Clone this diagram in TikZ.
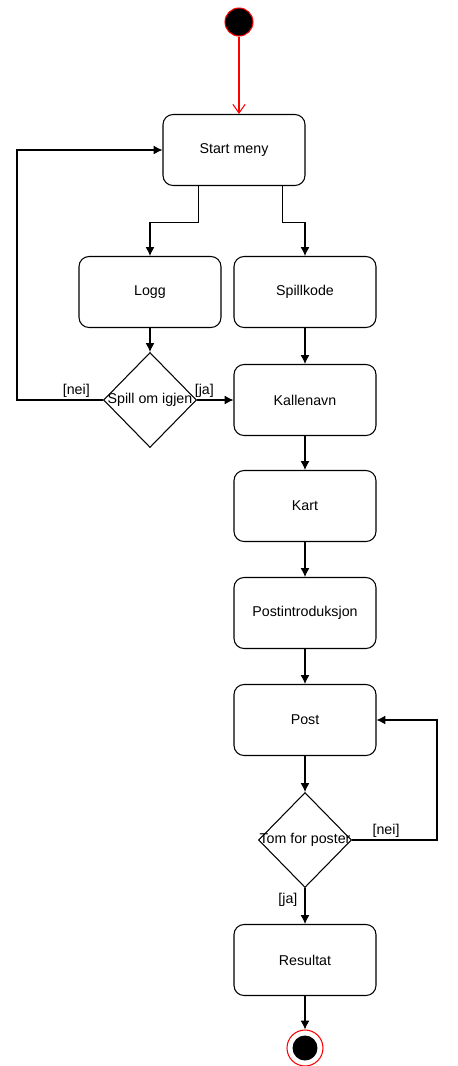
\documentclass[tikz,border=0pt]{standalone}
\usepackage{fontspec}
\setmainfont{Liberation Sans}
\usetikzlibrary{arrows.meta,calc,shapes.geometric}
\begin{document}
\begin{tikzpicture}[
        x=0.02cm, y=-0.02cm,
        font=\fontsize{8.1}{9.7}\selectfont,
        act/.style={draw, rounded corners=0.2cm, minimum width=2.84cm, minimum height=1.42cm, line width=0.6pt},
        decision/.style={draw, diamond, minimum width=1.86cm, minimum height=1.9cm, inner sep=0pt, line width=0.6pt},
        initial/.style={circle, fill=black, draw=red, minimum size=0.56cm, inner sep=0pt, line width=0.6pt},
        final/.style={circle, draw=red, minimum size=0.72cm, inner sep=0pt, line width=0.6pt,
            path picture={\fill[black] (path picture bounding box.center) circle (0.25cm);}},
        flow/.style={draw, -{Latex[length=5pt,width=5pt]}, line width=0.6pt},
        startflow/.style={draw=red, -{Straight Barb[length=5pt,width=7pt]}, line width=0.6pt},
    ]
    \useasboundingbox (0,0) rectangle (457,1066);
    \node[initial](start) at (239,22){};
    \node[act](meny) at (234,150){Start meny};
    \node[act](logg) at (150,292){Logg};
    \node[act](spillkode) at (305,292){Spillkode};
    \node[decision, label=center:{Spill om igjen}](igjen) at (150,400){};
    \node[act](kallenavn) at (305,400){Kallenavn};
    \node[act](kart) at (305,506){Kart};
    \node[act](intro) at (305,613){Postintroduksjon};
    \node[act](post) at (305,720){Post};
    \node[decision, label=center:{Tom for poster}](tom) at (305,840){};
    \node[act](resultat) at (305,960){Resultat};
    \node[final](slutt) at (305,1048){};

    \draw[startflow] (start) -- (start |- meny.north);
    \draw[flow] ($(meny.south west)!0.25!(meny.south east)$) -- ++(0,36) -| (logg.north);
    \draw[flow] ($(meny.south west)!0.84!(meny.south east)$) -- ++(0,36) -| (spillkode.north);
    \draw[flow] (logg) -- (igjen);
    \draw[flow] (spillkode) -- (kallenavn);
    \draw[flow] (igjen.east) -- node[above, pos=0.2, inner sep=1pt]{[ja]} (kallenavn.west);
    \draw[flow] (igjen.west) -- node[above, pos=0.31, inner sep=1pt]{[nei]} ++(-86,0) |- (meny.west);
    \draw[flow] (kallenavn) -- (kart);
    \draw[flow] (kart) -- (intro);
    \draw[flow] (intro) -- (post);
    \draw[flow] (post) -- (tom);
    \draw[flow] (tom.east) -- node[above, pos=0.4, inner sep=1pt]{[nei]} ++(85,0) |- (post.east);
    \draw[flow] (tom.south) -- node[left, pos=0.33, inner sep=4pt]{[ja]} (resultat.north);
    \draw[flow] (resultat) -- (slutt);
\end{tikzpicture}
\end{document}
